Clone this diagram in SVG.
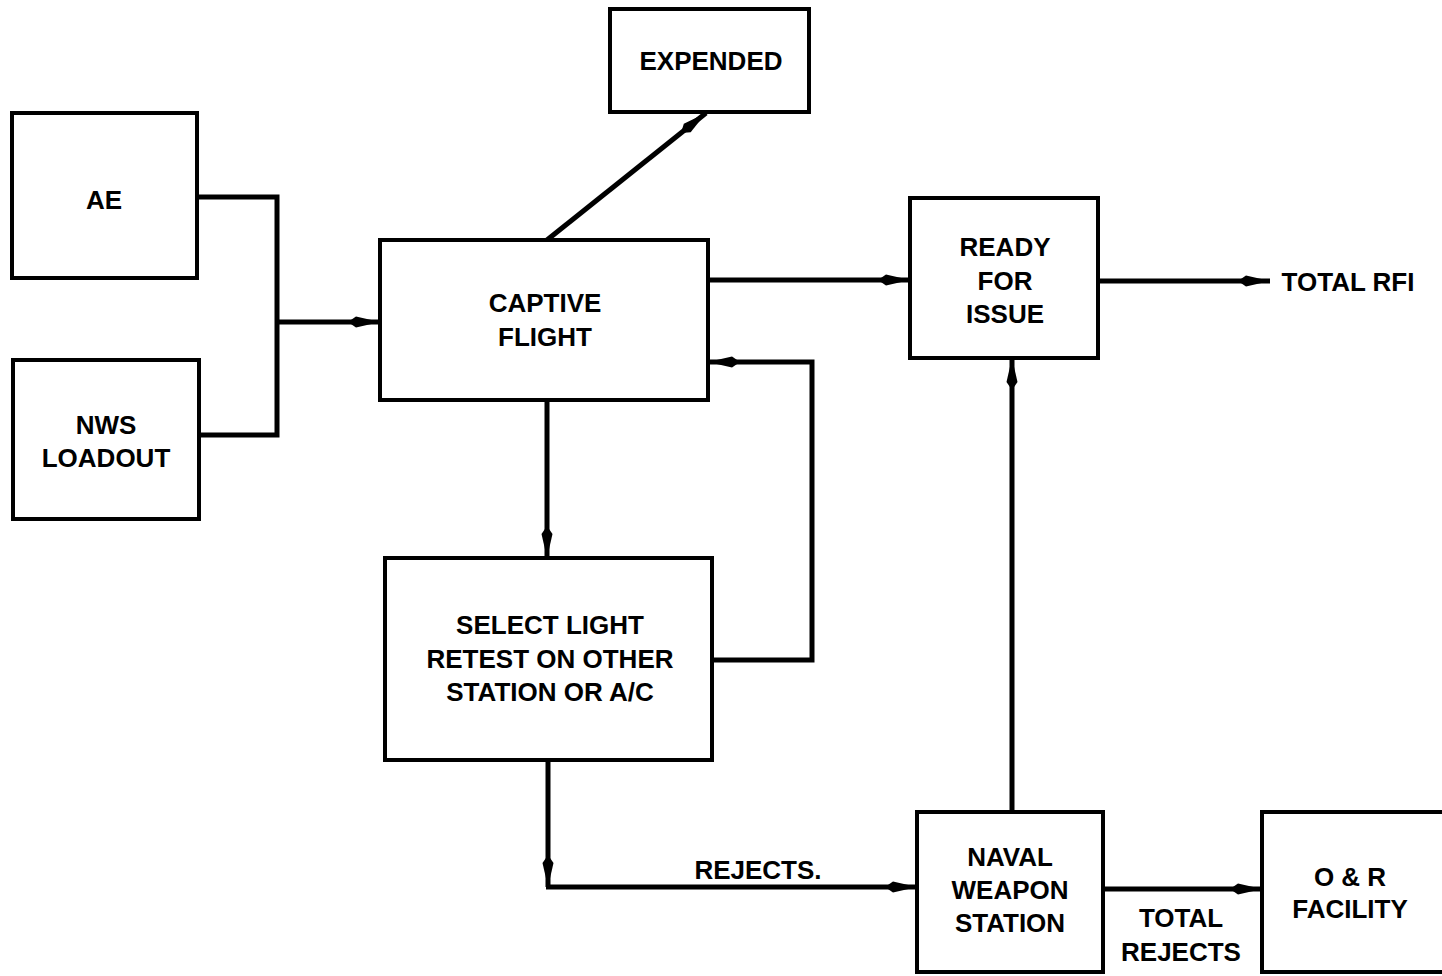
<svg xmlns="http://www.w3.org/2000/svg" width="1442" height="976" viewBox="0 0 1442 976">
<style>
.box{fill:#fff;stroke:#000;stroke-width:4}
.t{font-family:"Liberation Sans",Arial,sans-serif;font-weight:bold;font-size:26px;fill:#000;text-anchor:middle}
.ln{fill:none;stroke:#000;stroke-width:5;stroke-linejoin:miter}
</style>
<defs>
<marker id="ah" markerUnits="userSpaceOnUse" markerWidth="34" markerHeight="16" refX="32" refY="8" orient="auto">
<path d="M0,8 L8,2.5 L32,8 L8,13.5 Z" fill="#000"/>
</marker>
</defs>
<rect width="1442" height="976" fill="#fff"/>
<g id="connectors">
<polyline class="ln" points="197,197 277,197 277,435 199,435"/>
<line class="ln" x1="277" y1="322" x2="380" y2="322" marker-end="url(#ah)"/>
<line class="ln" x1="547" y1="240" x2="706" y2="113" marker-end="url(#ah)"/>
<line class="ln" x1="708" y1="280" x2="910" y2="280" marker-end="url(#ah)"/>
<line class="ln" x1="1098" y1="281" x2="1270" y2="281" marker-end="url(#ah)"/>
<polyline class="ln" points="712,660 812,660 812,362 708,362" marker-end="url(#ah)"/>
<line class="ln" x1="547" y1="400" x2="547" y2="558" marker-end="url(#ah)"/>
<line class="ln" x1="548" y1="760" x2="548" y2="887" marker-end="url(#ah)"/>
<line class="ln" x1="546" y1="887" x2="917" y2="887" marker-end="url(#ah)"/>
<line class="ln" x1="1012" y1="812" x2="1012" y2="358" marker-end="url(#ah)"/>
<line class="ln" x1="1103" y1="889" x2="1262" y2="889" marker-end="url(#ah)"/>
<text class="t" x="758" y="879">REJECTS.</text>
<text class="t" x="1181" y="927">TOTAL</text>
<text class="t" x="1181" y="961">REJECTS</text>
<text class="t" x="1348" y="291">TOTAL RFI</text>
</g>
<g id="ae"><rect class="box" x="12" y="113" width="185" height="165"/><text class="t" x="104" y="209">AE</text></g>
<g id="nws"><rect class="box" x="13" y="360" width="186" height="159"/><text class="t" x="106" y="434">NWS</text><text class="t" x="106" y="467">LOADOUT</text></g>
<g id="expended"><rect class="box" x="610" y="9" width="199" height="103"/><text class="t" x="711" y="70">EXPENDED</text></g>
<g id="captive"><rect class="box" x="380" y="240" width="328" height="160"/><text class="t" x="545" y="312">CAPTIVE</text><text class="t" x="545" y="346">FLIGHT</text></g>
<g id="ready"><rect class="box" x="910" y="198" width="188" height="160"/><text class="t" x="1005" y="256">READY</text><text class="t" x="1005" y="290">FOR</text><text class="t" x="1005" y="323">ISSUE</text></g>
<g id="select"><rect class="box" x="385" y="558" width="327" height="202"/><text class="t" x="550" y="634">SELECT LIGHT</text><text class="t" x="550" y="668">RETEST ON OTHER</text><text class="t" x="550" y="701">STATION OR A/C</text></g>
<g id="naval"><rect class="box" x="917" y="812" width="186" height="160"/><text class="t" x="1010" y="866">NAVAL</text><text class="t" x="1010" y="899">WEAPON</text><text class="t" x="1010" y="932">STATION</text></g>
<g id="oandr"><rect class="box" x="1262" y="812" width="190" height="160"/><text class="t" x="1350" y="886">O &amp; R</text><text class="t" x="1350" y="918">FACILITY</text></g>
</svg>
